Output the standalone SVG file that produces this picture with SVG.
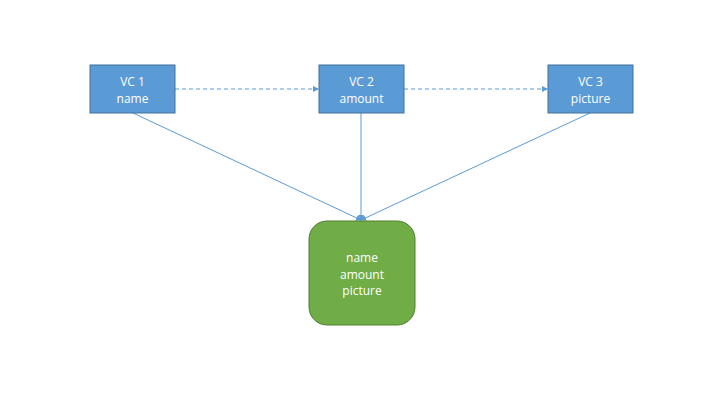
<svg xmlns="http://www.w3.org/2000/svg" width="720" height="405" viewBox="0 0 720 405">
<style>
.vc{fill:#5B9BD5;stroke:#41719C;stroke-width:1}
.res{fill:#70AD47;stroke:#507E32;stroke-width:1}
.t{font-family:"Open Sans","Liberation Sans",sans-serif;font-size:12px;fill:#FFFFFF;text-anchor:middle}
.dash{stroke:#5B9BD5;stroke-width:1;stroke-dasharray:4,3;fill:none}
.solid{stroke:#5B9BD5;stroke-width:1;fill:none}
</style>
<defs>
<marker id="ah" markerWidth="6" markerHeight="6" refX="5" refY="3" orient="auto" markerUnits="userSpaceOnUse">
<path d="M0,0 L6,3 L0,6 Z" fill="#5B9BD5"/>
</marker>
</defs>
<rect width="720" height="405" fill="#FFFFFF"/>
<g id="connectors">
<line class="dash" x1="175" y1="89" x2="318" y2="89" marker-end="url(#ah)"/>
<line class="dash" x1="404" y1="89" x2="547" y2="89" marker-end="url(#ah)"/>
<line class="solid" x1="133" y1="113" x2="361" y2="220" marker-end="url(#ah)"/>
<line class="solid" x1="361" y1="113" x2="361" y2="220" marker-end="url(#ah)"/>
<line class="solid" x1="590" y1="113" x2="361" y2="220" marker-end="url(#ah)"/>
</g>
<g id="vc1">
<rect class="vc" x="90" y="65" width="85" height="48"/>
<text class="t" x="132.5" y="86">VC 1</text>
<text class="t" x="132.5" y="103">name</text>
</g>
<g id="vc2">
<rect class="vc" x="319" y="65" width="85" height="48"/>
<text class="t" x="361.5" y="86">VC 2</text>
<text class="t" x="361.5" y="103">amount</text>
</g>
<g id="vc3">
<rect class="vc" x="548" y="65" width="85" height="48"/>
<text class="t" x="590.5" y="86">VC 3</text>
<text class="t" x="590.5" y="103">picture</text>
</g>
<g id="result">
<rect class="res" x="309" y="221" width="106" height="104" rx="18" ry="18"/>
<text class="t" x="362" y="262">name</text>
<text class="t" x="362" y="279">amount</text>
<text class="t" x="362" y="295">picture</text>
</g>
</svg>
